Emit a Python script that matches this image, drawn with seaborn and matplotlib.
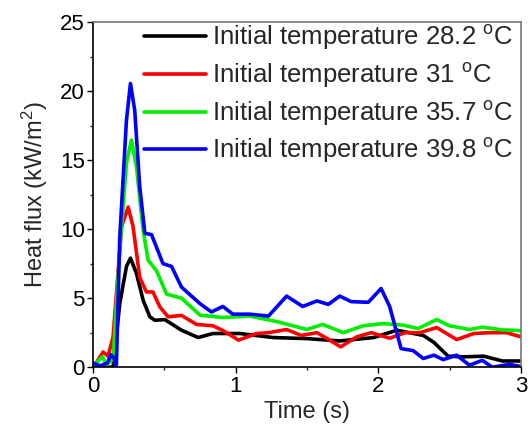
import numpy as np
import pandas as pd
import matplotlib
matplotlib.use("Agg")
import matplotlib.pyplot as plt
import seaborn as sns
from matplotlib.ticker import MultipleLocator

# Data (time s, heat flux kW/m2)
t_282 = [0, 0.12, 0.14, 0.187, 0.234, 0.262, 0.304, 0.351, 0.398, 0.433, 0.503, 0.62, 0.737, 0.84, 1.03, 1.26, 1.5, 1.73, 1.97, 2.13, 2.316, 2.39, 2.49, 2.6, 2.74, 2.87, 3.0]
q_282 = [0, 0, 0, 4.6, 7.3, 7.9, 6.8, 4.85, 3.65, 3.4, 3.45, 2.68, 2.15, 2.44, 2.44, 2.15, 2.07, 1.9, 2.15, 2.68, 2.3, 1.8, 0.8, 0.75, 0.8, 0.45, 0.45]

t_31 = [0, 0.019, 0.07, 0.105, 0.14, 0.2, 0.246, 0.28, 0.327, 0.374, 0.42, 0.468, 0.526, 0.62, 0.725, 0.84, 0.91, 1.02, 1.147, 1.23, 1.357, 1.46, 1.57, 1.66, 1.736, 1.85, 1.95, 2.08, 2.19, 2.29, 2.41, 2.55, 2.67, 2.78, 2.9, 3.0]
q_31 = [0.1, 0.27, 1.1, 0.8, 2.2, 10.2, 11.6, 10.2, 6.5, 5.45, 5.45, 4.37, 3.65, 3.75, 3.1, 3.0, 2.66, 1.96, 2.44, 2.5, 2.73, 2.3, 2.5, 1.96, 1.47, 2.2, 2.5, 2.1, 2.5, 2.5, 2.87, 2.0, 2.44, 2.5, 2.5, 2.2]

t_357 = [0, 0.04, 0.065, 0.095, 0.14, 0.187, 0.234, 0.269, 0.304, 0.351, 0.386, 0.444, 0.515, 0.62, 0.75, 0.91, 1.1, 1.29, 1.5, 1.61, 1.755, 1.895, 2.035, 2.175, 2.28, 2.41, 2.5, 2.64, 2.73, 2.87, 3.0]
q_357 = [0, 0.5, 0.75, 0.2, 0.6, 8.5, 14.8, 16.45, 14.5, 9.9, 7.75, 7.0, 5.3, 5.0, 3.77, 3.6, 3.7, 3.3, 2.73, 3.1, 2.5, 3.0, 3.16, 3.05, 2.8, 3.45, 3.0, 2.73, 2.9, 2.7, 2.65]

t_398 = [0, 0.047, 0.1, 0.125, 0.15, 0.163, 0.187, 0.234, 0.262, 0.292, 0.327, 0.363, 0.41, 0.49, 0.55, 0.62, 0.75, 0.83, 0.91, 0.98, 1.1, 1.23, 1.357, 1.47, 1.57, 1.65, 1.73, 1.81, 1.93, 2.02, 2.08, 2.16, 2.245, 2.316, 2.39, 2.456, 2.55, 2.64, 2.73, 2.8, 2.92, 3.0]
q_398 = [0.3, 0.1, 0.3, 0.9, 0.6, 0.0, 9.4, 17.9, 20.55, 18.6, 13.1, 9.7, 9.6, 7.5, 7.3, 5.8, 4.6, 4.0, 4.4, 3.84, 3.84, 3.7, 5.15, 4.4, 4.8, 4.55, 5.15, 4.75, 4.7, 5.7, 4.4, 1.35, 1.2, 0.63, 0.87, 0.55, 0.87, 0.14, 0.5, 0.0, 0.2, 0.05]

labels = ["Initial temperature 28.2 $^{\\rm o}$C",
          "Initial temperature 31 $^{\\rm o}$C",
          "Initial temperature 35.7 $^{\\rm o}$C",
          "Initial temperature 39.8 $^{\\rm o}$C"]
colors = ["#000000", "#ff0000", "#00ee00", "#0000ff"]

frames = []
for t, q, lab in zip([t_282, t_31, t_357, t_398], [q_282, q_31, q_357, q_398], labels):
    frames.append(pd.DataFrame({"Time": t, "Flux": q, "Series": lab}))
df = pd.concat(frames, ignore_index=True)

sns.set_style("ticks")
plt.rcParams['font.family'] = ['Liberation Sans', 'DejaVu Sans']
plt.rcParams['mathtext.fontset'] = 'custom'
plt.rcParams['mathtext.rm'] = 'Liberation Sans'
plt.rcParams['mathtext.it'] = 'Liberation Sans:italic'

fig = plt.figure(figsize=(5.32, 4.32), dpi=100)
ax = fig.add_axes([0.175, 0.150, 0.804, 0.799])

sns.lineplot(data=df, x="Time", y="Flux", hue="Series", palette=colors,
             hue_order=labels, sort=False, estimator=None, linewidth=2.6, ax=ax)
for ln in ax.get_lines():
    ln.set_solid_joinstyle('round')

ax.set_xlim(0, 3)
ax.set_ylim(0, 25)
ax.xaxis.set_major_locator(MultipleLocator(1))
ax.xaxis.set_minor_locator(MultipleLocator(0.5))
ax.yaxis.set_major_locator(MultipleLocator(5))
ax.yaxis.set_minor_locator(MultipleLocator(2.5))
ax.tick_params(which='major', direction='out', length=4, width=1, labelsize=16, colors='black', pad=2)
ax.tick_params(which='minor', direction='out', length=2.5, width=1)
ax.tick_params(top=False, right=False, which='both')

for s in ['left', 'bottom']:
    ax.spines[s].set_color('black')
    ax.spines[s].set_linewidth(1.2)
for s in ['top', 'right']:
    ax.spines[s].set_visible(True)
    ax.spines[s].set_color('#777777')
    ax.spines[s].set_linewidth(1.2)

ax.set_xlabel("Time (s)", fontsize=17, labelpad=3)
ax.set_ylabel("Heat flux (kW/m$^2$)", fontsize=17, labelpad=7)

leg = ax.legend(loc='upper right', frameon=False, fontsize=18.5, handlelength=2.4,
                handletextpad=0.25, labelspacing=0.34, borderaxespad=0.05,
                bbox_to_anchor=(1.009, 1.03))
for line in leg.get_lines():
    line.set_linewidth(2.6)

fig.savefig("out.png", dpi=100)
